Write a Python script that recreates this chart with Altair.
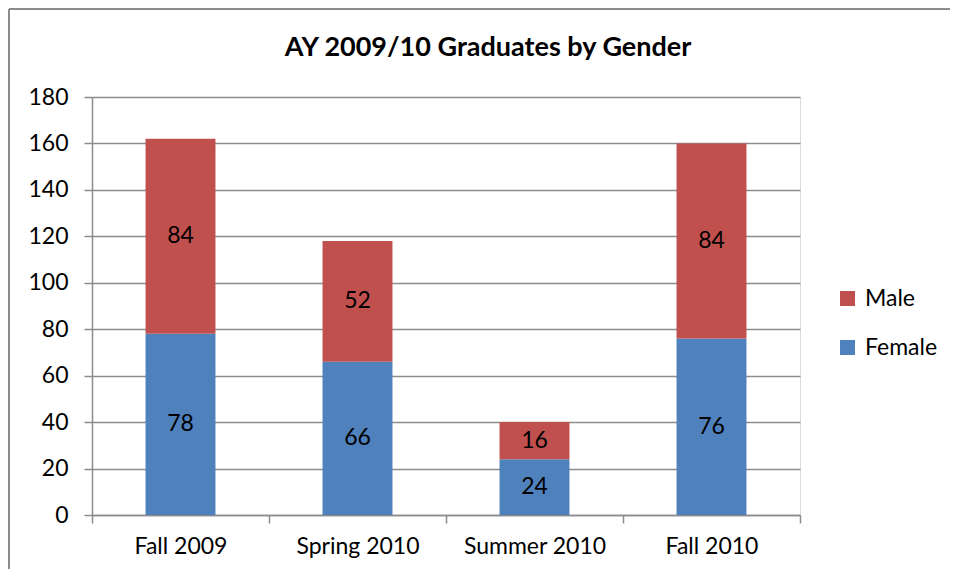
import altair as alt
import pandas as pd

terms = ["Fall 2009", "Spring 2010", "Summer 2010", "Fall 2010"]
female = [78, 66, 24, 76]
male = [84, 52, 16, 84]

rows = []
for t, f, m in zip(terms, female, male):
    rows.append({"term": t, "gender": "Female", "value": f, "ord": 0})
    rows.append({"term": t, "gender": "Male", "value": m, "ord": 1})
df = pd.DataFrame(rows)

FONT = "Lato"
GRID = "#8c8c8c"
FS = 23

base = alt.Chart(df).transform_stack(
    stack="value", groupby=["term"], as_=["v0", "v1"], sort=[alt.SortField("ord")]
).transform_calculate(mid="(datum.v0 + datum.v1) / 2")

xscale = alt.Scale(paddingInner=0, paddingOuter=0)
yscale = alt.Scale(domain=[0, 180])

bars = base.mark_bar(width={"band": 0.395}).encode(
    x=alt.X("term:N", sort=terms, title=None, scale=xscale),
    y=alt.Y("v0:Q", title=None, scale=yscale,
            axis=alt.Axis(values=list(range(0, 181, 20)))),
    y2="v1:Q",
    color=alt.Color(
        "gender:N",
        scale=alt.Scale(domain=["Male", "Female"], range=["#C0504D", "#4F81BD"]),
        legend=alt.Legend(
            title=None, orient="none", legendX=744, legendY=190,
            symbolType="square", symbolSize=225, symbolStrokeWidth=0,
            labelFontSize=FS, labelFont=FONT, labelColor="#000000",
            rowPadding=25, labelOffset=6,
        ),
    ),
)

labels = base.mark_text(fontSize=FS, font=FONT, color="#000000", baseline="middle").encode(
    x=alt.X("term:N", sort=terms, title=None, scale=xscale),
    y=alt.Y("mid:Q", title=None, scale=yscale),
    text=alt.Text("value:Q"),
)

border_top = alt.Chart(df).mark_rule(color=GRID, strokeWidth=2).encode(
    x=alt.value(-83), x2=alt.value(900), y=alt.value(-88)
)
border_left = alt.Chart(df).mark_rule(color=GRID, strokeWidth=2).encode(
    x=alt.value(-83), y=alt.value(-88), y2=alt.value(500)
)

chart = alt.layer(bars, labels, border_top, border_left).properties(
    width=708,
    height=418,
    title=alt.TitleParams(
        "AY 2009/10 Graduates by Gender", fontSize=27, font=FONT,
        fontWeight="bold", color="#000000", anchor="middle", dx=42,
        frame="group", offset=-54,
    ),
    autosize=alt.AutoSizeParams(type="none"),
    padding={"left": 84, "top": 89, "right": 150, "bottom": 54},
).configure_view(stroke=None).configure(background="white").configure_axisX(
    labelAngle=0, labelFontSize=FS, labelFont=FONT, labelColor="#000000",
    labelPadding=12, tickBand="extent", tickSize=8, tickColor=GRID,
    domainColor=GRID, domainWidth=1.5, tickWidth=1.5, grid=False,
).configure_axisY(
    labelFontSize=FS, labelFont=FONT, labelColor="#000000", labelPadding=16,
    tickSize=8, tickColor=GRID, domainColor=GRID, domainWidth=1.5,
    tickWidth=1.5, gridColor=GRID, gridWidth=1.3,
)

chart.save("out.html", embed_options={"renderer": "svg", "actions": False})
